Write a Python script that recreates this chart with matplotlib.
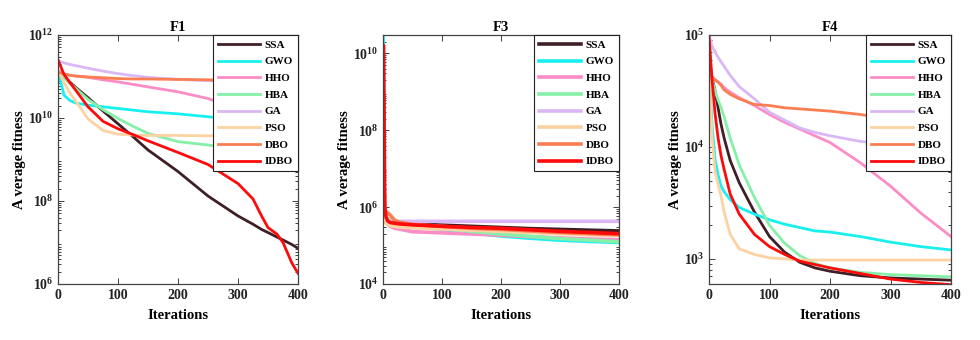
import numpy as np
import matplotlib
matplotlib.use('Agg')
import matplotlib.pyplot as plt
from matplotlib.ticker import FuncFormatter, LogLocator, NullFormatter

plt.rcParams['font.family'] = ['Liberation Serif', 'DejaVu Serif']
plt.rcParams['font.weight'] = 'bold'
plt.rcParams['mathtext.fontset'] = 'custom'
plt.rcParams['mathtext.rm'] = 'Liberation Serif:bold'
plt.rcParams['mathtext.bf'] = 'Liberation Serif:bold'

names = ['SSA', 'GWO', 'HHO', 'HBA', 'GA', 'PSO', 'DBO', 'IDBO']
colors = ['#3f1f26', '#18f0f0', '#fb8cc6', '#86f0a8', '#d9b8f5', '#fdd2a2', '#fa7e52', '#ff0a0a']

# values, given as log10(average fitness)
f1_iter = [0, 10, 20, 30, 50, 75, 100, 125, 150, 200, 250, 300, 325, 340, 350, 365, 375, 390, 400]
f1_ssa = [11.12, 11.0, 10.86, 10.73, 10.49, 10.17, 9.86, 9.55, 9.23, 8.71, 8.12, 7.64, 7.44, 7.31, 7.24, 7.13, 7.06, 6.95, 6.86]
f1_gwo = [11.15, 10.55, 10.42, 10.36, 10.31, 10.27, 10.23, 10.19, 10.15, 10.1, 10.03, 9.97, 9.94, 9.92, 9.9, 9.88, 9.87, 9.86, 9.85]
f1_hho = [11.15, 11.06, 11.03, 11.01, 10.98, 10.92, 10.87, 10.81, 10.75, 10.63, 10.47, 10.2, 10.05, 9.95, 9.88, 9.76, 9.68, 9.6, 9.55]
f1_hba = [11.15, 10.97, 10.83, 10.71, 10.45, 10.2, 9.99, 9.8, 9.63, 9.43, 9.35, 9.25, 9.2, 9.15, 9.12, 9.08, 9.06, 9.05, 9.04]
f1_ga = [11.38, 11.33, 11.29, 11.26, 11.2, 11.13, 11.07, 11.02, 10.98, 10.93, 10.9, 10.87, 10.86, 10.85, 10.85, 10.84, 10.84, 10.84, 10.84]
f1_pso = [11.15, 10.85, 10.6, 10.4, 9.98, 9.7, 9.61, 9.59, 9.58, 9.58, 9.57, 9.57, 9.56, 9.56, 9.56, 9.55, 9.55, 9.55, 9.55]
f1_dbo = [11.1, 11.06, 11.03, 11.01, 10.99, 10.97, 10.95, 10.94, 10.94, 10.93, 10.92, 10.9, 10.89, 10.89, 10.88, 10.88, 10.88, 10.87, 10.87]
f1_idbo = [11.4, 11.05, 10.85, 10.66, 10.27, 9.92, 9.74, 9.6, 9.45, 9.17, 8.88, 8.42, 8.05, 7.62, 7.36, 7.2, 7.0, 6.5, 6.26]

f3_iter = [0, 1, 2, 3, 5, 8, 12, 20, 30, 50, 100, 150, 200, 250, 300, 350, 400]
f3_ssa = [7.6, 6.5, 6.0, 5.8, 5.7, 5.65, 5.62, 5.6, 5.59, 5.57, 5.53, 5.5, 5.47, 5.44, 5.42, 5.4, 5.38]
f3_gwo = [10.47, 8.4, 6.5, 5.9, 5.7, 5.62, 5.6, 5.58, 5.55, 5.5, 5.42, 5.33, 5.25, 5.19, 5.14, 5.11, 5.08]
f3_hho = [9.5, 7.5, 6.2, 5.8, 5.6, 5.55, 5.5, 5.45, 5.42, 5.36, 5.33, 5.3, 5.27, 5.23, 5.2, 5.17, 5.15]
f3_hba = [9.0, 7.0, 6.2, 5.9, 5.75, 5.7, 5.68, 5.65, 5.6, 5.55, 5.45, 5.37, 5.3, 5.24, 5.18, 5.14, 5.1]
f3_ga = [8.5, 6.5, 5.9, 5.7, 5.65, 5.64, 5.63, 5.63, 5.63, 5.63, 5.63, 5.63, 5.63, 5.63, 5.63, 5.63, 5.63]
f3_pso = [9.0, 7.0, 6.0, 5.7, 5.6, 5.55, 5.52, 5.5, 5.48, 5.46, 5.43, 5.4, 5.37, 5.34, 5.31, 5.28, 5.26]
f3_dbo = [10.0, 8.0, 6.5, 6.0, 5.85, 5.85, 5.8, 5.65, 5.6, 5.55, 5.5, 5.45, 5.42, 5.38, 5.34, 5.31, 5.28]
f3_idbo = [10.2, 10.2, 8.0, 6.0, 5.75, 5.64, 5.6, 5.58, 5.56, 5.54, 5.5, 5.47, 5.45, 5.41, 5.37, 5.34, 5.31]

f4_iter = [0, 5, 10, 15, 20, 25, 35, 50, 75, 100, 125, 150, 175, 200, 250, 300, 350, 400]
f4_ssa = [4.75, 4.62, 4.5, 4.35, 4.2, 4.08, 3.88, 3.68, 3.42, 3.2, 3.06, 2.97, 2.92, 2.89, 2.85, 2.83, 2.82, 2.81]
f4_gwo = [4.7, 4.2, 3.89, 3.75, 3.65, 3.6, 3.53, 3.46, 3.4, 3.35, 3.31, 3.28, 3.25, 3.24, 3.2, 3.15, 3.11, 3.08]
f4_hho = [4.65, 4.63, 4.6, 4.58, 4.56, 4.53, 4.49, 4.44, 4.37, 4.29, 4.22, 4.16, 4.1, 4.04, 3.86, 3.65, 3.41, 3.2]
f4_hba = [4.7, 4.6, 4.5, 4.42, 4.35, 4.27, 4.08, 3.84, 3.55, 3.3, 3.14, 3.03, 2.96, 2.92, 2.88, 2.86, 2.85, 2.84]
f4_ga = [5.0, 4.9, 4.85, 4.8, 4.76, 4.72, 4.64, 4.54, 4.43, 4.31, 4.24, 4.17, 4.13, 4.1, 4.05, 4.02, 4.0, 3.98]
f4_pso = [4.7, 4.1, 3.78, 3.67, 3.56, 3.42, 3.22, 3.09, 3.04, 3.01, 3.0, 2.99, 2.99, 2.99, 2.99, 2.99, 2.99, 2.99]
f4_dbo = [4.65, 4.62, 4.6, 4.58, 4.55, 4.51, 4.47, 4.43, 4.38, 4.37, 4.35, 4.34, 4.33, 4.32, 4.29, 4.25, 4.22, 4.2]
f4_idbo = [5.0, 4.6, 4.3, 4.08, 3.92, 3.8, 3.58, 3.4, 3.22, 3.11, 3.04, 2.98, 2.95, 2.92, 2.87, 2.82, 2.79, 2.77]

panels = [
    ('F1', f1_iter, [f1_ssa, f1_gwo, f1_hho, f1_hba, f1_ga, f1_pso, f1_dbo, f1_idbo], (1e6, 1e12), 2.0),
    ('F3', f3_iter, [f3_ssa, f3_gwo, f3_hho, f3_hba, f3_ga, f3_pso, f3_dbo, f3_idbo], (1e4, 3e10), 2.6),
    ('F4', f4_iter, [f4_ssa, f4_gwo, f4_hho, f4_hba, f4_ga, f4_pso, f4_dbo, f4_idbo], (597, 1e5), 2.0),
]
lefts = [58, 383, 709]
widths = [240, 236, 242]

fig = plt.figure(figsize=(9.8, 3.4), dpi=100)

def sci(v, pos):
    return r'$\mathbf{10^{%d}}$' % int(round(np.log10(v)))

for (title, it, series, ylim, lw), l, w in zip(panels, lefts, widths):
    ax = fig.add_axes([l / 980, 1 - 284 / 340, w / 980, 249 / 340])
    for name, c, s in zip(names, colors, series):
        ax.plot(it, 10 ** np.array(s), color=c, lw=lw, label=name)
    ax.set_yscale('log')
    ax.set_xlim(0, 400)
    ax.set_xticks([0, 100, 200, 300, 400])
    if title == 'F4':
        ax.set_yticks([1e3, 1e4, 1e5])
    else:
        ax.set_yticks([10 ** k for k in range(int(np.log10(ylim[0])), 13, 2)])
    ax.yaxis.set_major_formatter(FuncFormatter(sci))
    ax.yaxis.set_minor_locator(LogLocator(base=10, subs=np.arange(2, 10), numticks=50))
    ax.yaxis.set_minor_formatter(NullFormatter())
    ax.set_ylim(*ylim)
    ax.tick_params(direction='in', which='both', labelsize=10, colors='#222222',
                   width=0.6, top=True, right=True)
    ax.tick_params(which='major', length=4)
    ax.tick_params(which='minor', length=2)
    for sp in ax.spines.values():
        sp.set_color('#444444')
        sp.set_linewidth(0.9)
    ax.set_title(title, fontsize=10.5, fontweight='bold', pad=3)
    ax.set_xlabel('Iterations', fontsize=10.5, fontweight='bold', labelpad=5)
    ax.set_ylabel('A verage fitness', fontsize=10.5, fontweight='bold', labelpad=1)
    leg = ax.legend(loc='upper right', borderaxespad=0, frameon=True,
                    fancybox=False, framealpha=1, edgecolor='#222222',
                    handlelength=3.8, handletextpad=0.4, labelspacing=0.62,
                    borderpad=0.45, prop={'weight': 'bold', 'size': 8})
    leg.get_frame().set_linewidth(0.8)

plt.savefig('out.png', dpi=100)
